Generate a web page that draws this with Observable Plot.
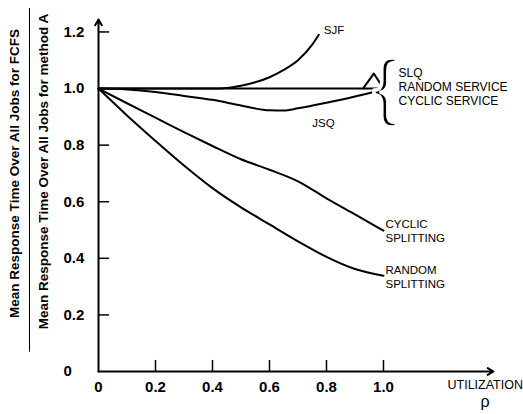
<!DOCTYPE html>
<html><head><meta charset="utf-8">
<script src="https://cdn.jsdelivr.net/npm/d3@7"></script>
<script src="https://cdn.jsdelivr.net/npm/@observablehq/plot@0.6"></script>
<style>body{margin:0;background:#fff;}</style>
</head><body><div id="chart"></div>
<script>
const xTicks = [0, 0.2, 0.4, 0.6, 0.8, 1.0];
const yTicks = [0, 0.2, 0.4, 0.6, 0.8, 1.0, 1.2];

const serviceX = [0, 1.0];
const serviceY = [1.0, 1.0];
const bumpX = [0.928, 0.966, 1.0];
const bumpY = [1.0, 1.053, 1.0];

const sjfX = [0, 0.2, 0.4, 0.45, 0.5, 0.55, 0.6, 0.65, 0.7, 0.75, 0.773];
const sjfY = [1.0, 1.0, 1.0, 1.002, 1.01, 1.022, 1.04, 1.066, 1.1, 1.155, 1.19];

const jsqX = [0, 0.1, 0.2, 0.3, 0.4, 0.5, 0.6, 0.65, 0.7, 0.8, 0.9, 1.0];
const jsqY = [1.0, 0.997, 0.988, 0.974, 0.96, 0.94, 0.923, 0.922, 0.93, 0.95, 0.972, 0.997];

const splitX = [0, 0.1, 0.2, 0.3, 0.4, 0.5, 0.6, 0.7, 0.8, 0.9, 1.0];
const cyclicY = [1.0, 0.948, 0.897, 0.846, 0.797, 0.75, 0.713, 0.672, 0.612, 0.555, 0.498];
const randomY = [1.0, 0.905, 0.815, 0.728, 0.648, 0.58, 0.52, 0.46, 0.405, 0.362, 0.338];

const xMax = 1.386, yMax = 1.244;

const pts = (xs, ys) => xs.map((x, i) => ({x, y: ys[i]}));
const font = "Liberation Sans, Arial, sans-serif";
const fmt = d => d === 0 ? "0" : d.toFixed(1);

const chart = Plot.plot({
  width: 523, height: 414,
  marginLeft: 98, marginRight: 30, marginTop: 19, marginBottom: 43,
  x: {domain: [0, xMax]},
  y: {domain: [0, yMax]},
  style: {fontFamily: font, background: "white", color: "black"},
  marks: [
    Plot.axisX(xTicks, {tickSize: 0, tickPadding: 10, fontSize: 15, fontWeight: "bold", label: null, tickFormat: fmt}),
    Plot.axisY(yTicks, {tickSize: 0, tickPadding: 35, textAnchor: "start", fontSize: 15, fontWeight: "bold", label: null, tickFormat: fmt}),
    Plot.ruleX(xTicks.slice(1), {x: d => d, y1: 0, y2: 0.039, strokeWidth: 1.5}),
    Plot.ruleY(yTicks.slice(1), {y: d => d, x1: 0, x2: 0.039, strokeWidth: 1.5}),
    Plot.arrow([{x1: 0, y1: 0, x2: xMax, y2: 0}, {x1: 0, y1: 0, x2: 0, y2: yMax}],
      {x1: "x1", y1: "y1", x2: "x2", y2: "y2", strokeWidth: 2, headLength: 5}),
    Plot.line(pts(serviceX, serviceY), {x: "x", y: "y", strokeWidth: 2}),
    Plot.line(pts(bumpX, bumpY), {x: "x", y: "y", strokeWidth: 2}),
    Plot.line(pts(sjfX, sjfY), {x: "x", y: "y", strokeWidth: 2, curve: "monotone-x"}),
    Plot.line(pts(jsqX, jsqY), {x: "x", y: "y", strokeWidth: 2, curve: "monotone-x"}),
    Plot.line(pts(splitX, cyclicY), {x: "x", y: "y", strokeWidth: 2, curve: "monotone-x"}),
    Plot.line(pts(splitX, randomY), {x: "x", y: "y", strokeWidth: 2, curve: "monotone-x"}),
    // curve labels
    Plot.text([{x: sjfX.at(-1), y: sjfY.at(-1), t: "SJF"}], {x: "x", y: "y", text: "t", textAnchor: "start", dx: 5, dy: -4, fontSize: 11.5}),
    Plot.text([{x: jsqX[9], y: jsqY[9], t: "JSQ"}], {x: "x", y: "y", text: "t", textAnchor: "middle", dx: -3, dy: 21, fontSize: 11.5}),
    Plot.text([{x: splitX.at(-1), y: cyclicY.at(-1), t: "CYCLIC\nSPLITTING"}], {x: "x", y: "y", text: "t", textAnchor: "start", dx: 2, dy: 0, fontSize: 11.5, lineHeight: 1.2}),
    Plot.text([{x: splitX.at(-1), y: randomY.at(-1), t: "RANDOM\nSPLITTING"}], {x: "x", y: "y", text: "t", textAnchor: "start", dx: 2, dy: 1, fontSize: 11.5, lineHeight: 1.2}),
    Plot.text([{x: serviceX.at(-1), y: serviceY.at(-1), t: "SLQ\nRANDOM SERVICE\nCYCLIC SERVICE"}], {x: "x", y: "y", text: "t", textAnchor: "start", dx: 15, dy: -2, fontSize: 12, lineHeight: 1.18}),
    Plot.text([{x: serviceX.at(-1), y: serviceY.at(-1), t: "{"}], {x: "x", y: "y", text: "t", textAnchor: "end", dx: 14, dy: 0, fontSize: 74, stroke: "white", strokeWidth: 3.5, paintOrder: "fill", fill: "black"}),
    // axis titles
    Plot.text(["UTILIZATION"], {frameAnchor: "bottom-right", text: d => d, textAnchor: "start", dx: -46, dy: 17, fontSize: 12.5}),
    Plot.text(["ρ"], {frameAnchor: "bottom-right", text: d => d, textAnchor: "start", dx: -13, dy: 35, fontSize: 16}),
    Plot.text(["Mean Response Time Over All Jobs for FCFS"], {frameAnchor: "left", text: d => d, rotate: -90, textAnchor: "middle", dx: -84, dy: -22, fontSize: 13.5, fontWeight: "bold"}),
    Plot.text(["Mean Response Time Over All Jobs for method A"], {frameAnchor: "left", text: d => d, rotate: -90, textAnchor: "middle", dx: -55, dy: -24, fontSize: 13.5, fontWeight: "bold"}),
    Plot.ruleX([{y1: 1.283, y2: 0.068}], {x: () => 0, y1: "y1", y2: "y2", dx: -69, strokeWidth: 1})
  ]
});
document.getElementById("chart").append(chart);
</script>
</body></html>
